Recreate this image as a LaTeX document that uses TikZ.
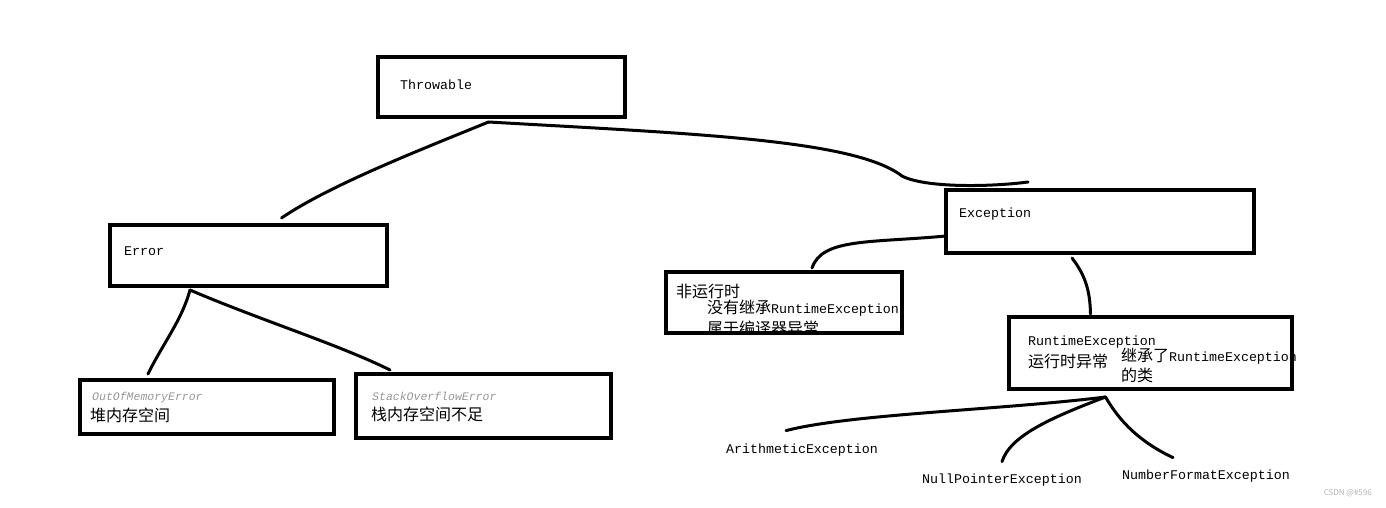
\documentclass[tikz,border=0pt]{standalone}
\usepackage{fontspec}
\usepackage{tikz}
\usetikzlibrary{positioning}
\setmainfont{Liberation Mono}
\newfontfamily\cjk{Noto Sans CJK SC}
\newcommand{\zh}[1]{{\cjk\fontsize{16}{17}\selectfont #1}}
\definecolor{hintgray}{RGB}{150,150,150}
\tikzset{
  javabox/.style={draw, line width=4pt, inner sep=0pt},
  boxtext/.style={anchor=west, inner sep=0pt, font=\fontsize{13.3}{16}\selectfont},
  hinttext/.style={anchor=west, inner sep=0pt, text=hintgray, font=\fontsize{11.5}{14}\selectfont\itshape},
  handline/.style={line width=3pt, line cap=round, line join=round}
}
\begin{document}
\begin{tikzpicture}[x=1pt, y=-1pt]
  \useasboundingbox (0,0) rectangle (1386,507);

  \node[javabox, minimum width=247pt, minimum height=60pt] (throwable) at (501.5,87) {};
  \node[javabox, minimum width=277pt, minimum height=61pt] (error) at (248.5,255.5) {};
  \node[javabox, minimum width=308pt, minimum height=63pt] (exception) at (1100,221.5) {};
  \node[javabox, minimum width=236pt, minimum height=61pt] (checked) at (784,302.5) {};
  \node[javabox, minimum width=283pt, minimum height=72pt] (runtime) at (1150.5,353) {};
  \node[javabox, minimum width=254pt, minimum height=54pt] (oom) at (207,407) {};
  \node[javabox, minimum width=255pt, minimum height=64pt] (soe) at (483.5,406) {};

  \node[boxtext] (throwabletext) at (400,85) {Throwable};
  \node[boxtext] (errortext) at (124,251) {Error};
  \node[boxtext] (exceptiontext) at (959,214) {Exception};
  \begin{scope}
    \clip ([shift={(2,2)}]checked.north west) rectangle ([shift={(-2,-2)}]checked.south east);
    \node[boxtext] (checkedtext) at (676,291) {\zh{非运行时}};
    \node[boxtext] (checkednote) at (707,308) {\zh{没有继承}RuntimeException};
    \node[boxtext] (checkedkind) at (707,328) {\zh{属于编译器异常}};
  \end{scope}
  \node[boxtext] (runtimetext) at (1028,342) {RuntimeException};
  \node[boxtext] (runtimezh) at (1028,361) {\zh{运行时异常}};
  \node[boxtext] (runtimenote) at (1121,356) {\zh{继承了}RuntimeException};
  \node[boxtext] (runtimekind) at (1121,375) {\zh{的类}};
  \node[hinttext] (oomtext) at (92,398) {OutOfMemoryError};
  \node[boxtext] (oomzh) at (90,415) {\zh{堆内存空间}};
  \node[hinttext] (soetext) at (372,396) {StackOverflowError};
  \node[boxtext] (soezh) at (371,414) {\zh{栈内存空间不足}};

  \node[boxtext] (arith) at (726,450) {ArithmeticException};
  \node[boxtext] (npe) at (922,480) {NullPointerException};
  \node[boxtext] (nfe) at (1122,476) {NumberFormatException};

  \draw[handline] ([shift={(-13,3)}]throwable.south) .. controls (420,150) and (330,185) .. ([shift={(33,-5)}]error.north);
  \draw[handline] ([shift={(-13,3)}]throwable.south) .. controls (700,134) and (855,140) .. (902,176) .. controls (925,188) and (990,187) .. ([shift={(-72,-6)}]exception.north);
  \draw[handline] ([shift={(2,14.5)}]exception.west) .. controls (870,243) and (822,238) .. ([shift={(28,-2)}]checked.north);
  \draw[handline] ([shift={(-28,3)}]exception.south) .. controls (1085,275) and (1090,290) .. ([shift={(-60,-1)}]runtime.north);
  \draw[handline] ([shift={(-58.5,2)}]error.south) .. controls (182,320) and (162,345) .. ([shift={(-59,-4)}]oom.north);
  \draw[handline] ([shift={(-58.5,2)}]error.south) .. controls (260,320) and (340,345) .. ([shift={(-93.5,-2)}]soe.north);
  \draw[handline] ([shift={(-45,6)}]runtime.south) .. controls (1000,410) and (850,414) .. ([shift={(-16,-13)}]arith.north);
  \draw[handline] ([shift={(-45,6)}]runtime.south) .. controls (1050,418) and (1010,436) .. ([shift={(0,-12)}]npe.north);
  \draw[handline] ([shift={(-45,6)}]runtime.south) .. controls (1120,422) and (1140,442) .. ([shift={(-33,-12)}]nfe.north);

  \node[anchor=east, inner sep=0pt, text=gray!60, font=\cjk\fontsize{8}{9}\selectfont] (mark) at (1372,493) {CSDN @\#596};
\end{tikzpicture}
\end{document}
